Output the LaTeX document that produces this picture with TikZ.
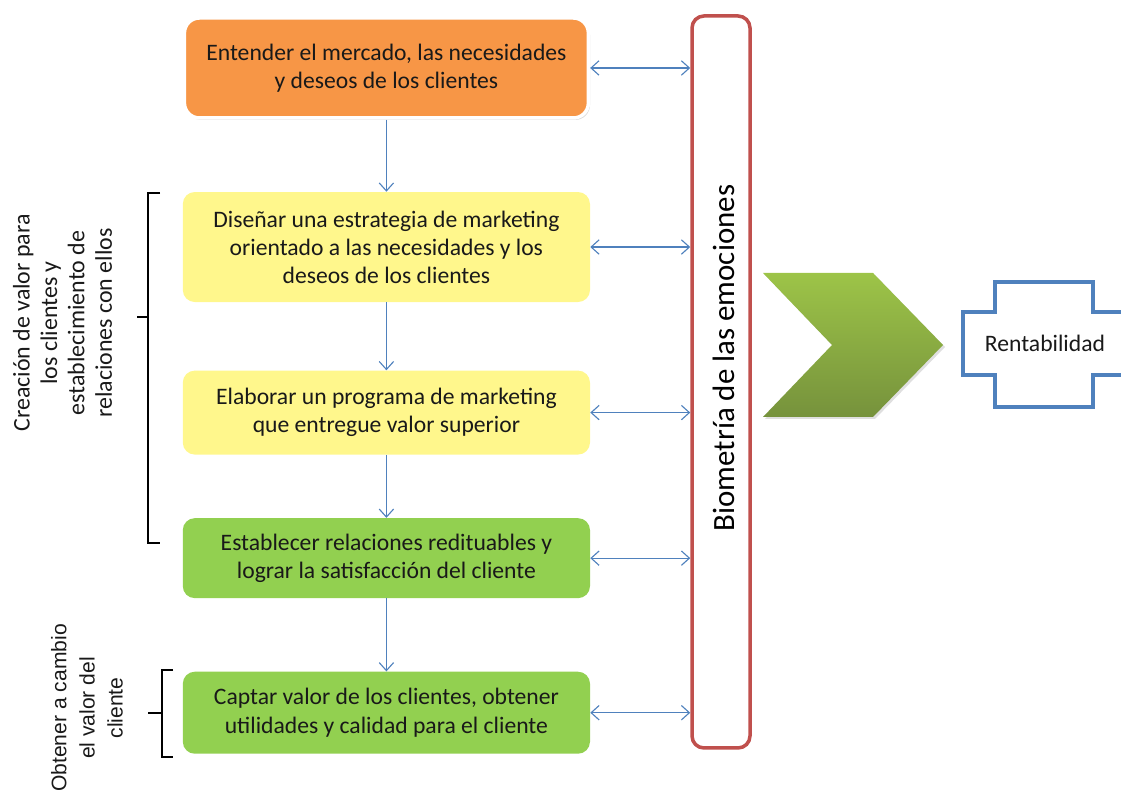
\documentclass[tikz,border=0pt]{standalone}
\usepackage{fontspec}
\setmainfont{Carlito}
\newfontfamily\arialfont{Liberation Sans}
\usetikzlibrary{arrows.meta, positioning, shadows, calc}
\definecolor{boxorange}{HTML}{F79646}
\definecolor{boxyellow}{HTML}{FFF78C}
\definecolor{boxgreen}{HTML}{92D050}
\definecolor{barred}{HTML}{C0504D}
\definecolor{linkblue}{HTML}{4F81BD}
\definecolor{chevtop}{HTML}{9DC448}
\definecolor{chevbot}{HTML}{76923C}
\tikzset{
    stage/.style={
        rectangle,
        rounded corners=0.3cm,
        minimum width=10.18cm,
        align=center,
        text=black!90,
        font=\fontsize{16.8}{20}\selectfont
    },
    flow/.style={
        draw=linkblue,
        line width=0.8pt,
        -{Straight Barb[length=2mm,width=3.6mm]}
    },
    twoway/.style={
        draw=linkblue,
        line width=0.8pt,
        {Straight Barb[length=2mm,width=3.6mm]}-{Straight Barb[length=2mm,width=3.6mm]}
    },
    bracket/.style={
        draw=black,
        line width=1.3pt
    },
    sidelabel/.style={
        rotate=90,
        align=center,
        text=black!90
    }
}

\begin{document}
\begin{tikzpicture}
\useasboundingbox (0,0) rectangle (28.025,19.9);

% Process stages (middle column)
\node[stage, fill=boxorange, minimum width=10.1cm, minimum height=2.5cm, rounded corners=0.375cm,
      draw=white, line width=2.5pt, drop shadow={opacity=0.3, shadow xshift=0.04cm, shadow yshift=-0.05cm}]
      (entender) at (9.66,18.2) {Entender el mercado, las necesidades\\y deseos de los clientes};
\node[stage, fill=boxyellow, minimum height=2.75cm, below=1.8cm of entender] (disenar)
      {Diseñar una estrategia de marketing\\orientado a las necesidades y los\\deseos de los clientes};
\node[stage, fill=boxyellow, minimum height=2.1cm, below=1.7cm of disenar] (elaborar)
      {Elaborar un programa de marketing\\que entregue valor superior};
\node[stage, fill=boxgreen, minimum height=2cm, below=1.575cm of elaborar] (establecer)
      {Establecer relaciones redituables y\\lograr la satisfacción del cliente};
\node[stage, fill=boxgreen, minimum height=2.05cm, below=1.825cm of establecer] (captar)
      {Captar valor de los clientes, obtener\\utilidades y calidad  para el cliente};

% Emotion biometrics bar
\node[draw=barred, line width=2.5pt, rounded corners=0.3cm, minimum width=1.45cm, minimum height=18.3cm]
      (biometria) at (18.025,10.35) {};
\node[rotate=90, anchor=base, font=\fontsize{22}{26}\selectfont] (biolabel) at (18.35,10.95)
      {Biometría de las emociones};

% Chevron and result
\path[top color=chevtop, bottom color=chevbot, drop shadow={opacity=0.25, shadow xshift=0.05cm, shadow yshift=-0.05cm}]
      (19.075,13.075) -- (21.825,13.075) -- (23.575,11.275) -- (21.825,9.475)
      -- (19.075,9.475) -- (20.8,11.275) -- cycle;
\draw[linkblue, line width=2.6pt] (28.025,12.1) -- (27.325,12.1) -- (27.325,12.85) -- (24.875,12.85)
      -- (24.875,12.1) -- (24.075,12.1) -- (24.075,10.525) -- (24.875,10.525) -- (24.875,9.725)
      -- (27.325,9.725) -- (27.325,10.525) -- (28.025,10.525);
\node[font=\fontsize{16.8}{20}\selectfont, text=black!90] (rentab) at (26.125,11.325) {Rentabilidad};

% Left brackets and labels
\draw[bracket] (4.0,15.075) -- (3.7,15.075) -- (3.7,6.325) -- (4.0,6.325);
\draw[bracket] (3.7,11.975) -- (3.425,11.975);
\node[sidelabel, font=\fontsize{17}{19.5}\selectfont] (creacion) at (1.5625,11.825)
      {Creación de valor para\\los clientes y\\establecimiento de\\relaciones con ellos};
\draw[bracket] (4.325,3.15) -- (4.05,3.15) -- (4.05,0.975) -- (4.325,0.975);
\draw[bracket] (4.05,2.075) -- (3.7,2.075);
\node[sidelabel, font=\arialfont\fontsize{15}{20}\selectfont] (obtener) at (2.175,2.2)
      {Obtener a cambio\\el valor del\\cliente};

% Flow between stages
\draw[flow] (entender) -- (disenar);
\draw[flow] (disenar) -- (elaborar);
\draw[flow] (elaborar) -- (establecer);
\draw[flow] (establecer) -- (captar);

% Links to the bar
\foreach \s in {entender, disenar, elaborar, establecer, captar}
    \draw[twoway] (\s.east) -- (\s.east -| biometria.west);

\end{tikzpicture}
\end{document}
